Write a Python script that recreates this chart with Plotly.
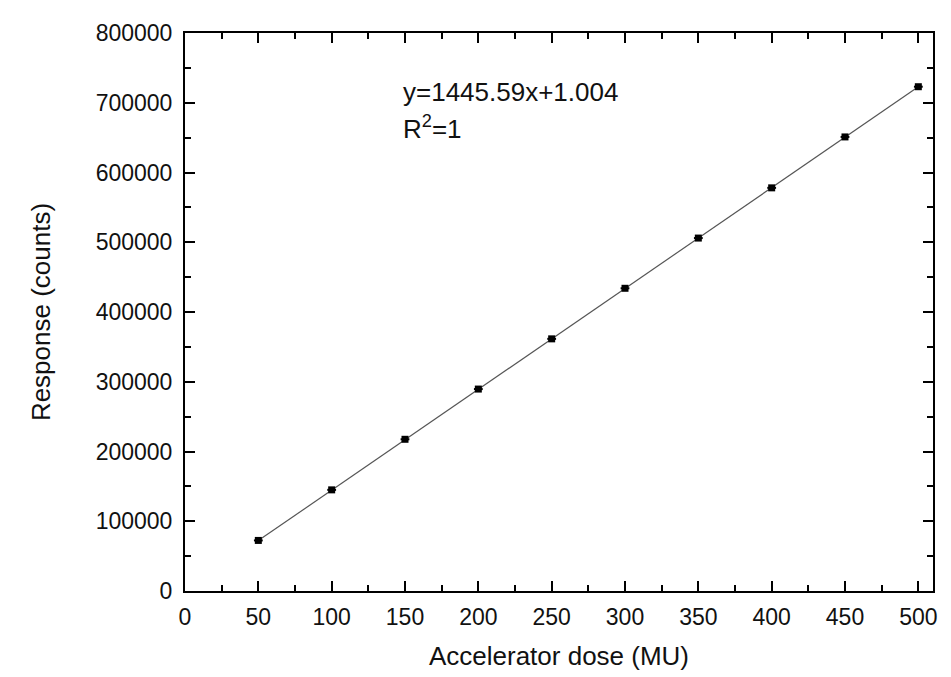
import plotly.graph_objects as go

dose = [50, 100, 150, 200, 250, 300, 350, 400, 450, 500]
response = [72500, 145000, 217500, 289500, 361500, 434000, 506000, 578000, 651000, 723000]
slope = 1445.59
intercept = 1.004
fit_x = [50, 500]
fit_y = [slope * v + intercept for v in fit_x]

font = "Liberation Sans, Arial, sans-serif"

fig = go.Figure()
fig.add_trace(go.Scatter(x=fit_x, y=fit_y, mode="lines",
                         line=dict(color="#555555", width=1.2), showlegend=False))
fig.add_trace(go.Scatter(x=dose, y=response, mode="markers",
                         marker=dict(symbol="square", size=7, color="black"),
                         error_x=dict(type="constant", value=3, width=0, color="black", thickness=2),
                         showlegend=False))

fig.add_annotation(x=0, y=1, xref="paper", yref="paper", showarrow=False,
                   text="y=1445.59x+1.004", xanchor="left", yanchor="middle",
                   font=dict(family=font, size=26, color="#111"),
                   xshift=216, yshift=-59)
fig.add_annotation(x=0, y=1, xref="paper", yref="paper", showarrow=False,
                   text="R<sup>2</sup>=1", xanchor="left", yanchor="middle",
                   font=dict(family=font, size=26, color="#111"),
                   xshift=216, yshift=-94)

axis_common = dict(showline=True, linecolor="black", linewidth=2, mirror="ticks",
                   ticks="inside", ticklen=10, tickwidth=2, tickcolor="black",
                   showgrid=False, zeroline=False,
                   tickfont=dict(family=font, size=23, color="#111"))

fig.update_xaxes(range=[0, 510], tick0=0, dtick=50, ticklabelstandoff=4,
                 minor=dict(ticks="inside", ticklen=6, tickwidth=2, tickcolor="black", dtick=25, showgrid=False),
                 title=dict(text="Accelerator dose (MU)", font=dict(family=font, size=26, color="#111"), standoff=18),
                 **axis_common)
fig.update_yaxes(range=[0, 800000], tick0=0, dtick=100000, tickformat="d", ticklabelstandoff=6,
                 minor=dict(ticks="inside", ticklen=6, tickwidth=2, tickcolor="black", dtick=50000, showgrid=False),
                 title=dict(text="Response (counts)", font=dict(family=font, size=26, color="#111"), standoff=38),
                 **axis_common)

fig.update_layout(width=951, height=677, margin=dict(l=177, r=26, t=25, b=94),
                  plot_bgcolor="white", paper_bgcolor="white")

fig.write_html("out.html")
